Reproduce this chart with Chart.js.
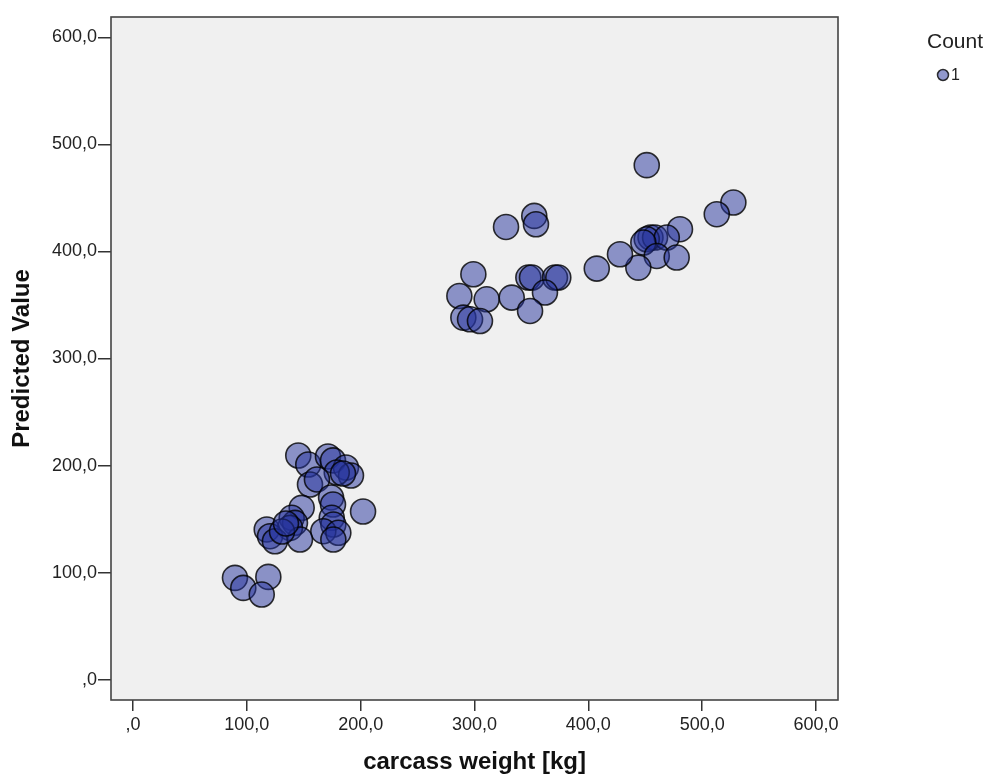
<!DOCTYPE html>
<html>
<head>
<meta charset="utf-8">
<script src="https://cdn.jsdelivr.net/npm/chart.js@4/dist/chart.umd.min.js"></script>
<style>
  html, body { margin: 0; padding: 0; background: #ffffff; }
  #wrap { width: 987px; height: 774px; position: relative; }
</style>
</head>
<body>
<div id="wrap"><canvas id="chart"></canvas></div>
<script>
// carcass weight [kg] (x) vs. predicted value (y)
const weightKg = [
  89.6, 96.9, 118.9, 113.1,
  145.2, 154.0, 171.3, 175.7, 187.1, 191.5, 179.0, 184.5, 155.5, 161.6,
  174.0, 175.7, 202.1, 148.2, 139.4, 142.3, 137.9, 174.6, 176.0, 167.2,
  180.4, 176.0, 117.5, 120.4, 124.7, 146.7, 130.9, 134.4,
  327.7, 352.5, 354.0, 299.0, 286.7, 310.7, 290.2, 296.1, 304.8, 332.7,
  347.3, 350.5, 370.7, 373.6, 361.9, 348.8,
  451.3, 527.4, 512.8, 480.5, 454.6, 458.6, 451.3, 468.9, 448.3, 460.1,
  477.6, 443.9, 427.8, 407.4
];
const predicted = [
  95.1, 85.7, 96.0, 79.5,
  209.4, 201.0, 208.5, 204.8, 198.2, 190.7, 193.5, 192.6, 182.3, 187.0,
  170.2, 163.6, 157.1, 160.5, 151.2, 146.5, 141.8, 151.2, 144.9, 138.7,
  137.2, 130.9, 140.3, 134.0, 129.3, 130.9, 138.4, 145.9,
  422.9, 433.2, 425.4, 378.7, 358.4, 355.3, 338.2, 336.6, 335.0, 356.9,
  375.6, 375.6, 375.6, 375.6, 361.6, 344.4,
  480.6, 445.7, 434.8, 420.8, 413.0, 413.0, 411.4, 413.0, 408.3, 395.8,
  394.3, 384.9, 397.4, 384.0
];
const xTicks = [0, 100, 200, 300, 400, 500, 600];
const yTicks = [0, 100, 200, 300, 400, 500, 600];
const legendTitle = "Count";
const legendLabel = "1";

const FONT = "'Liberation Sans', Arial, sans-serif";
const FILL = "rgba(35, 50, 155, 0.5)";
const EDGE = "rgba(0, 0, 0, 0.8)";

function fmt(v) {
  return v === 0 ? ",0" : v.toFixed(1).replace(".", ",");
}

const plotFrame = {
  id: "plotFrame",
  beforeDatasetsDraw(chart) {
    const { ctx, chartArea: a } = chart;
    ctx.save();
    ctx.fillStyle = "#f0f0f0";
    ctx.fillRect(a.left, a.top, a.right - a.left, a.bottom - a.top);
    ctx.restore();
  },
  afterDatasetsDraw(chart) {
    const { ctx, chartArea: a } = chart;
    ctx.save();
    ctx.strokeStyle = "#444";
    ctx.lineWidth = 1.6;
    ctx.strokeRect(a.left, a.top, a.right - a.left, a.bottom - a.top);
    ctx.restore();
  },
  afterDraw(chart) {
    const ctx = chart.ctx;
    ctx.save();
    ctx.fillStyle = "#222";
    ctx.textBaseline = "middle";
    ctx.textAlign = "left";
    ctx.font = "21px " + FONT;
    ctx.fillText(legendTitle, 927, 42);
    ctx.beginPath();
    ctx.arc(943, 75, 5.5, 0, Math.PI * 2);
    ctx.fillStyle = FILL;
    ctx.fill();
    ctx.strokeStyle = EDGE;
    ctx.lineWidth = 1.5;
    ctx.stroke();
    ctx.fillStyle = "#222";
    ctx.font = "16px " + FONT;
    ctx.fillText(legendLabel, 951, 76);
    ctx.restore();
  }
};

new Chart(document.getElementById("chart"), {
  type: "scatter",
  data: {
    datasets: [{
      label: legendLabel,
      data: weightKg.map((x, i) => ({ x: x, y: predicted[i] })),
      pointRadius: 12.5,
      pointHoverRadius: 12.5,
      backgroundColor: FILL,
      borderColor: EDGE,
      borderWidth: 1.6
    }]
  },
  options: {
    responsive: true,
    maintainAspectRatio: false,
    animation: false,
    events: [],
    layout: { padding: { top: 17, right: 149, bottom: 0, left: 0 } },
    plugins: {
      legend: { display: false },
      tooltip: { enabled: false }
    },
    scales: {
      x: {
        type: "linear",
        min: -19.3,
        max: 619.3,
        afterBuildTicks: (s) => { s.ticks = xTicks.map(v => ({ value: v })); },
        afterFit: (s) => { s.height = 74; },
        ticks: {
          callback: fmt,
          color: "#222",
          font: { family: FONT, size: 18 },
          padding: 3,
          maxRotation: 0
        },
        grid: { drawOnChartArea: false, drawTicks: true, tickLength: 11, color: "#333", lineWidth: 1.5 },
        border: { display: false },
        title: {
          display: true,
          text: "carcass weight [kg]",
          color: "#111",
          font: { family: FONT, size: 24, weight: "bold", lineHeight: 1 },
          padding: { top: 0, bottom: 0 }
        }
      },
      y: {
        type: "linear",
        min: -19,
        max: 619,
        afterBuildTicks: (s) => { s.ticks = yTicks.map(v => ({ value: v })); },
        afterFit: (s) => { s.width = 111; },
        ticks: {
          callback: fmt,
          color: "#222",
          font: { family: FONT, size: 18 },
          padding: 1
        },
        grid: { drawOnChartArea: false, drawTicks: true, tickLength: 13, color: "#333", lineWidth: 1.5 },
        border: { display: false },
        title: {
          display: true,
          text: "Predicted Value",
          color: "#111",
          font: { family: FONT, size: 24, weight: "bold", lineHeight: 1 },
          padding: { top: 10, bottom: 0 }
        }
      }
    }
  },
  plugins: [plotFrame]
});
</script>
</body>
</html>
